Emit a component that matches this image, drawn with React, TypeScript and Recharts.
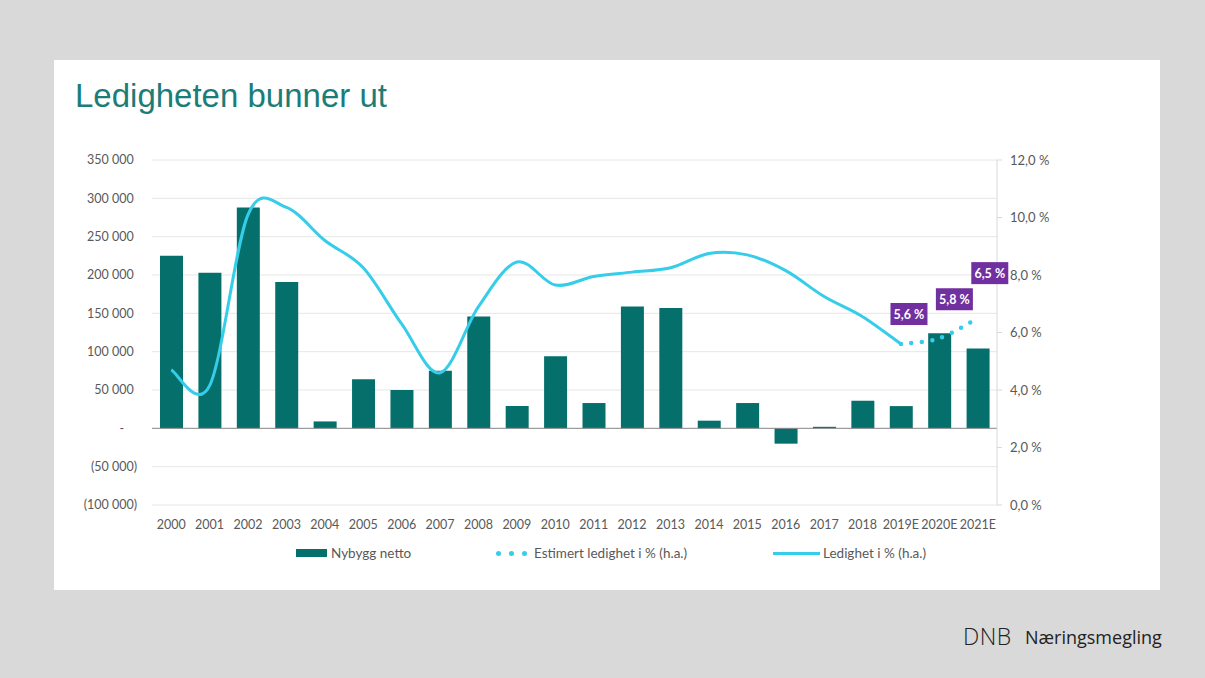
import React from 'react'
import {
  ComposedChart,
  Bar,
  Line,
  XAxis,
  YAxis,
  CartesianGrid,
  ReferenceLine,
  LabelList,
} from 'recharts'

const years = [
  '2000', '2001', '2002', '2003', '2004', '2005', '2006', '2007', '2008', '2009', '2010',
  '2011', '2012', '2013', '2014', '2015', '2016', '2017', '2018', '2019E', '2020E', '2021E',
]

// Nybygg netto (kvm), venstre akse
const nybyggNetto = [
  225000, 203000, 288000, 191000, 9000, 64000, 50000, 75000, 146000, 29000, 94000,
  33000, 159000, 157000, 10000, 33000, -20000, 2000, 36000, 29000, 124000, 104000,
]

// Ledighet i %, høyre akse
const ledighet = [
  4.7, 4.15, 10.1, 10.35, 9.2, 8.25, 6.3, 4.6, 6.9, 8.45, 7.65,
  7.95, 8.1, 8.25, 8.75, 8.7, 8.15, 7.25, 6.55, 5.6, null, null,
]

const estimertLedighet = [
  null, null, null, null, null, null, null, null, null, null, null,
  null, null, null, null, null, null, null, null, 5.6, 5.8, 6.5,
]

const leftTicks = [-100000, -50000, 0, 50000, 100000, 150000, 200000, 250000, 300000, 350000]
const rightTicks = [0, 2, 4, 6, 8, 10, 12]

const data = years.map((year, i) => ({
  year,
  nybygg: nybyggNetto[i],
  ledighet: ledighet[i],
  estimert: estimertLedighet[i],
}))

const TEAL = '#05706b'
const CYAN = '#35cde9'
const PURPLE = '#7030a0'
const TEXT = '#595959'
const FONT = 'Lato, "Open Sans", sans-serif'

// smoothing like Excel's "smoothed line" (Catmull-Rom as bezier)
const excelSmooth = (ctx: any) => {
  let pts: number[][] = []
  return {
    areaStart() {},
    areaEnd() {},
    lineStart() {
      pts = []
    },
    point(x: number, y: number) {
      pts.push([+x, +y])
    },
    lineEnd() {
      if (!pts.length) return
      ctx.moveTo(pts[0][0], pts[0][1])
      const k = 1 / 6
      for (let i = 0; i < pts.length - 1; i++) {
        const p0 = pts[i - 1] || pts[i]
        const p1 = pts[i]
        const p2 = pts[i + 1]
        const p3 = pts[i + 2] || p2
        ctx.bezierCurveTo(
          p1[0] + (p2[0] - p0[0]) * k,
          p1[1] + (p2[1] - p0[1]) * k,
          p2[0] - (p3[0] - p1[0]) * k,
          p2[1] - (p3[1] - p1[1]) * k,
          p2[0],
          p2[1]
        )
      }
    },
  }
}

const groupThousands = (v: number) => String(v).replace(/\B(?=(\d{3})+(?!\d))/g, ' ')

const formatLeft = (v: number) => {
  if (v === 0) return '-\u00a0\u00a0\u00a0\u00a0'
  if (v < 0) return `(${groupThousands(-v)})`
  return groupThousands(v) + '\u00a0'
}

const formatPct = (v: number) => `${v.toFixed(1).replace('.', ',')} %`

const labelShift = [
  [8, -30],
  [15, -39],
  [12, -45],
]

function PctLabel(props: any) {
  const { x, y, value, index } = props
  if (value == null || x == null || y == null) return null
  const shift = labelShift[index - 19] || [10, -38]
  const cx = x + shift[0]
  const cy = y + shift[1]
  const w = 37
  const h = 22
  return (
    <g>
      <rect x={cx - w / 2} y={cy - h / 2} width={w} height={h} fill={PURPLE} />
      <text
        x={cx}
        y={cy + 4.5}
        textAnchor="middle"
        fill="#fff"
        fontSize={12.5}
        fontWeight={700}
        fontFamily={FONT}
      >
        {formatPct(value)}
      </text>
    </g>
  )
}

function Legend() {
  const text: React.CSSProperties = {
    position: 'absolute',
    top: 544,
    fontFamily: FONT,
    fontSize: 13.5,
    color: TEXT,
    lineHeight: '18px',
    whiteSpace: 'nowrap',
  }
  return (
    <>
      <div style={{ position: 'absolute', left: 296, top: 549, width: 31, height: 8, background: TEAL }} />
      <div style={{ ...text, left: 331 }}>Nybygg netto</div>
      {[498, 511, 524].map((x) => (
        <div
          key={x}
          style={{
            position: 'absolute',
            left: x - 2.5,
            top: 550.5,
            width: 5,
            height: 5,
            borderRadius: '50%',
            background: CYAN,
          }}
        />
      ))}
      <div style={{ ...text, left: 534 }}>Estimert ledighet i % (h.a.)</div>
      <div style={{ position: 'absolute', left: 773, top: 551.5, width: 47, height: 3, background: CYAN }} />
      <div style={{ ...text, left: 823 }}>Ledighet i % (h.a.)</div>
    </>
  )
}

export default function App() {
  return (
    <div
      style={{
        position: 'absolute',
        left: 0,
        top: 0,
        width: 1205,
        height: 678,
        background: '#d9d9d9',
        overflow: 'hidden',
      }}
    >
      <div style={{ position: 'absolute', left: 54, top: 60, width: 1106, height: 530, background: '#fff' }} />
      <div
        style={{
          position: 'absolute',
          left: 75,
          top: 79,
          fontFamily: '"Liberation Sans", Arial, sans-serif',
          fontSize: 33,
          lineHeight: '33px',
          color: '#1b7d77',
          whiteSpace: 'nowrap',
        }}
      >
        Ledigheten bunner ut
      </div>

      <div style={{ position: 'absolute', left: 0, top: 0 }}>
        <ComposedChart
          width={1100}
          height={570}
          data={data}
          margin={{ top: 160, right: 43, bottom: 35, left: 72 }}
          barCategoryGap="20%"
        >
          <CartesianGrid yAxisId="left" vertical={false} stroke="#e6e6e6" />
          <XAxis
            dataKey="year"
            axisLine={false}
            tickLine={false}
            tickSize={6}
            tickMargin={9}
            height={30}
            interval={0}
            tick={{ fill: TEXT, fontSize: 12.5, fontFamily: FONT }}
          />
          <YAxis
            yAxisId="left"
            orientation="left"
            width={80}
            domain={[-100000, 350000]}
            ticks={leftTicks}
            interval={0}
            axisLine={false}
            tickLine={false}
            tickSize={6}
            tickMargin={9}
            tickFormatter={formatLeft}
            tick={{ fill: TEXT, fontSize: 12.5, fontFamily: FONT }}
          />
          <YAxis
            yAxisId="right"
            orientation="right"
            width={60}
            domain={[0, 12]}
            ticks={rightTicks}
            interval={0}
            axisLine={{ stroke: '#d9d9d9' }}
            tickLine={{ stroke: '#d9d9d9' }}
            tickSize={5}
            tickMargin={8}
            tickFormatter={formatPct}
            tick={{ fill: TEXT, fontSize: 13, fontFamily: FONT, textAnchor: 'start' }}
          />
          <ReferenceLine yAxisId="left" y={0} stroke="#8c8c8c" strokeWidth={1} />
          <Bar
            yAxisId="left"
            dataKey="nybygg"
            name="Nybygg netto"
            fill={TEAL}
            barSize={23}
            isAnimationActive={false}
          />
          <Line
            yAxisId="right"
            dataKey="ledighet"
            name="Ledighet i % (h.a.)"
            type={excelSmooth as any}
            stroke={CYAN}
            strokeWidth={3}
            dot={false}
            activeDot={false}
            isAnimationActive={false}
          />
          <Line
            yAxisId="right"
            dataKey="estimert"
            name="Estimert ledighet i % (h.a.)"
            type={excelSmooth as any}
            stroke={CYAN}
            strokeWidth={4.5}
            strokeDasharray="0 10.5"
            strokeLinecap="round"
            dot={false}
            activeDot={false}
            isAnimationActive={false}
          >
            <LabelList dataKey="estimert" content={<PctLabel />} />
          </Line>
        </ComposedChart>
      </div>

      <Legend />

      <div
        style={{
          position: 'absolute',
          left: 963,
          top: 623,
          fontFamily: '"Open Sans", sans-serif',
          fontSize: 23,
          fontWeight: 300,
          lineHeight: '26px',
          color: '#222',
          letterSpacing: 0.5,
          whiteSpace: 'nowrap',
        }}
      >
        DNB
      </div>
      <div
        style={{
          position: 'absolute',
          left: 1025,
          top: 625,
          fontFamily: '"Open Sans", sans-serif',
          fontSize: 18,
          lineHeight: '24px',
          color: '#222',
          whiteSpace: 'nowrap',
        }}
      >
        Næringsmegling
      </div>
    </div>
  )
}
